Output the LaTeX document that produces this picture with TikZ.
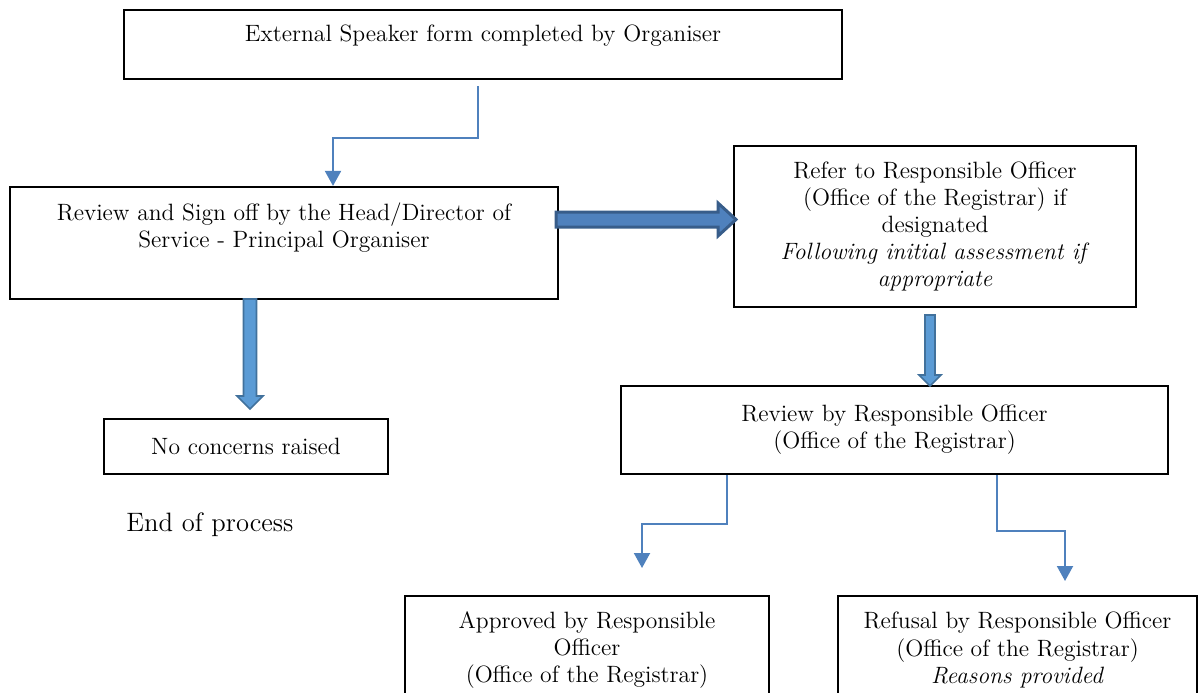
\documentclass[tikz,border=0pt]{standalone}
\usetikzlibrary{arrows.meta}

\definecolor{linkblue}{RGB}{79,129,189}
\definecolor{arrowfill}{RGB}{91,155,213}
\definecolor{arrowedge}{RGB}{65,113,156}
\definecolor{barfill}{RGB}{79,129,189}
\definecolor{baredge}{RGB}{56,93,138}

\tikzset{
	box/.style={draw, line width=1.1pt, align=center, inner sep=2pt,
		font=\fontsize{11.8}{13.6}\selectfont},
	link/.style={draw=linkblue, line width=1pt, -{Triangle[width=8pt,length=7.5pt]}},
	fatarrow/.style={fill=arrowfill, draw=arrowedge, line width=0.8pt},
	bararrow/.style={fill=barfill, draw=baredge, line width=1.5pt},
}

\begin{document}
\begin{tikzpicture}[x=0.5pt, y=-0.5pt]
	\clip (0,0) rectangle (1204,692);

	\node[box, minimum width=359pt, minimum height=34.5pt, text depth=11pt] (form) at (483,44.5)
		{External Speaker form completed by Organiser};
	\node[box, minimum width=274pt, minimum height=56pt, text depth=17.5pt] (review) at (284,243)
		{Review and Sign off by the Head/Director of\\ Service - Principal Organiser};
	\node[box, minimum width=201pt, minimum height=80.5pt] (refer) at (935,226.5)
		{Refer to Responsible Officer\\ (Office of the Registrar) if\\ designated\\
		 \textit{Following initial assessment if}\\ \textit{appropriate}};
	\node[box, minimum width=142pt, minimum height=27.5pt] (noconcern) at (246,446.5)
		{No concerns raised};
	\node[font=\fontsize{13.3}{16}\selectfont] (endproc) at (210,525) {End of process};
	\node[box, minimum width=273.5pt, minimum height=44pt] (regreview) at (894.5,430)
		{Review by Responsible Officer\\ (Office of the Registrar)};
	\node[box, minimum width=182pt, minimum height=54pt] (approved) at (587,650)
		{Approved by Responsible\\ Officer\\ (Office of the Registrar)};
	\node[box, minimum width=179.5pt, minimum height=54pt] (refusal) at (1017.5,650)
		{Refusal by Responsible Officer\\ (Office of the Registrar)\\ \textit{Reasons provided}};

	% elbow links
	\coordinate (formout) at (478,86);
	\coordinate (bendA)   at (333,138);
	\draw[link] (formout) |- (bendA) -- (bendA |- review.north);

	\coordinate (bendB)  at (642,524);
	\coordinate (apprin) at (642,568);
	\draw[link] (727,0 |- regreview.south) |- (bendB) -- (apprin);

	\coordinate (bendC)  at (1065,531);
	\coordinate (refin)  at (1065,581);
	\draw[link] (997,0 |- regreview.south) |- (bendC) -- (refin);

	% block arrows
	\draw[bararrow] (556,212) -- (718,212) -- (718,203) -- (736,219.5)
		-- (718,236) -- (718,227) -- (556,227) -- cycle;
	\draw[fatarrow] (243.5,299) -- (243.5,396) -- (237,396) -- (250,409)
		-- (263,396) -- (256.5,396) -- (256.5,299) -- cycle;
	\draw[fatarrow] (925,315) -- (925,375) -- (919,375) -- (930,386)
		-- (941,375) -- (935,375) -- (935,315) -- cycle;
\end{tikzpicture}
\end{document}
